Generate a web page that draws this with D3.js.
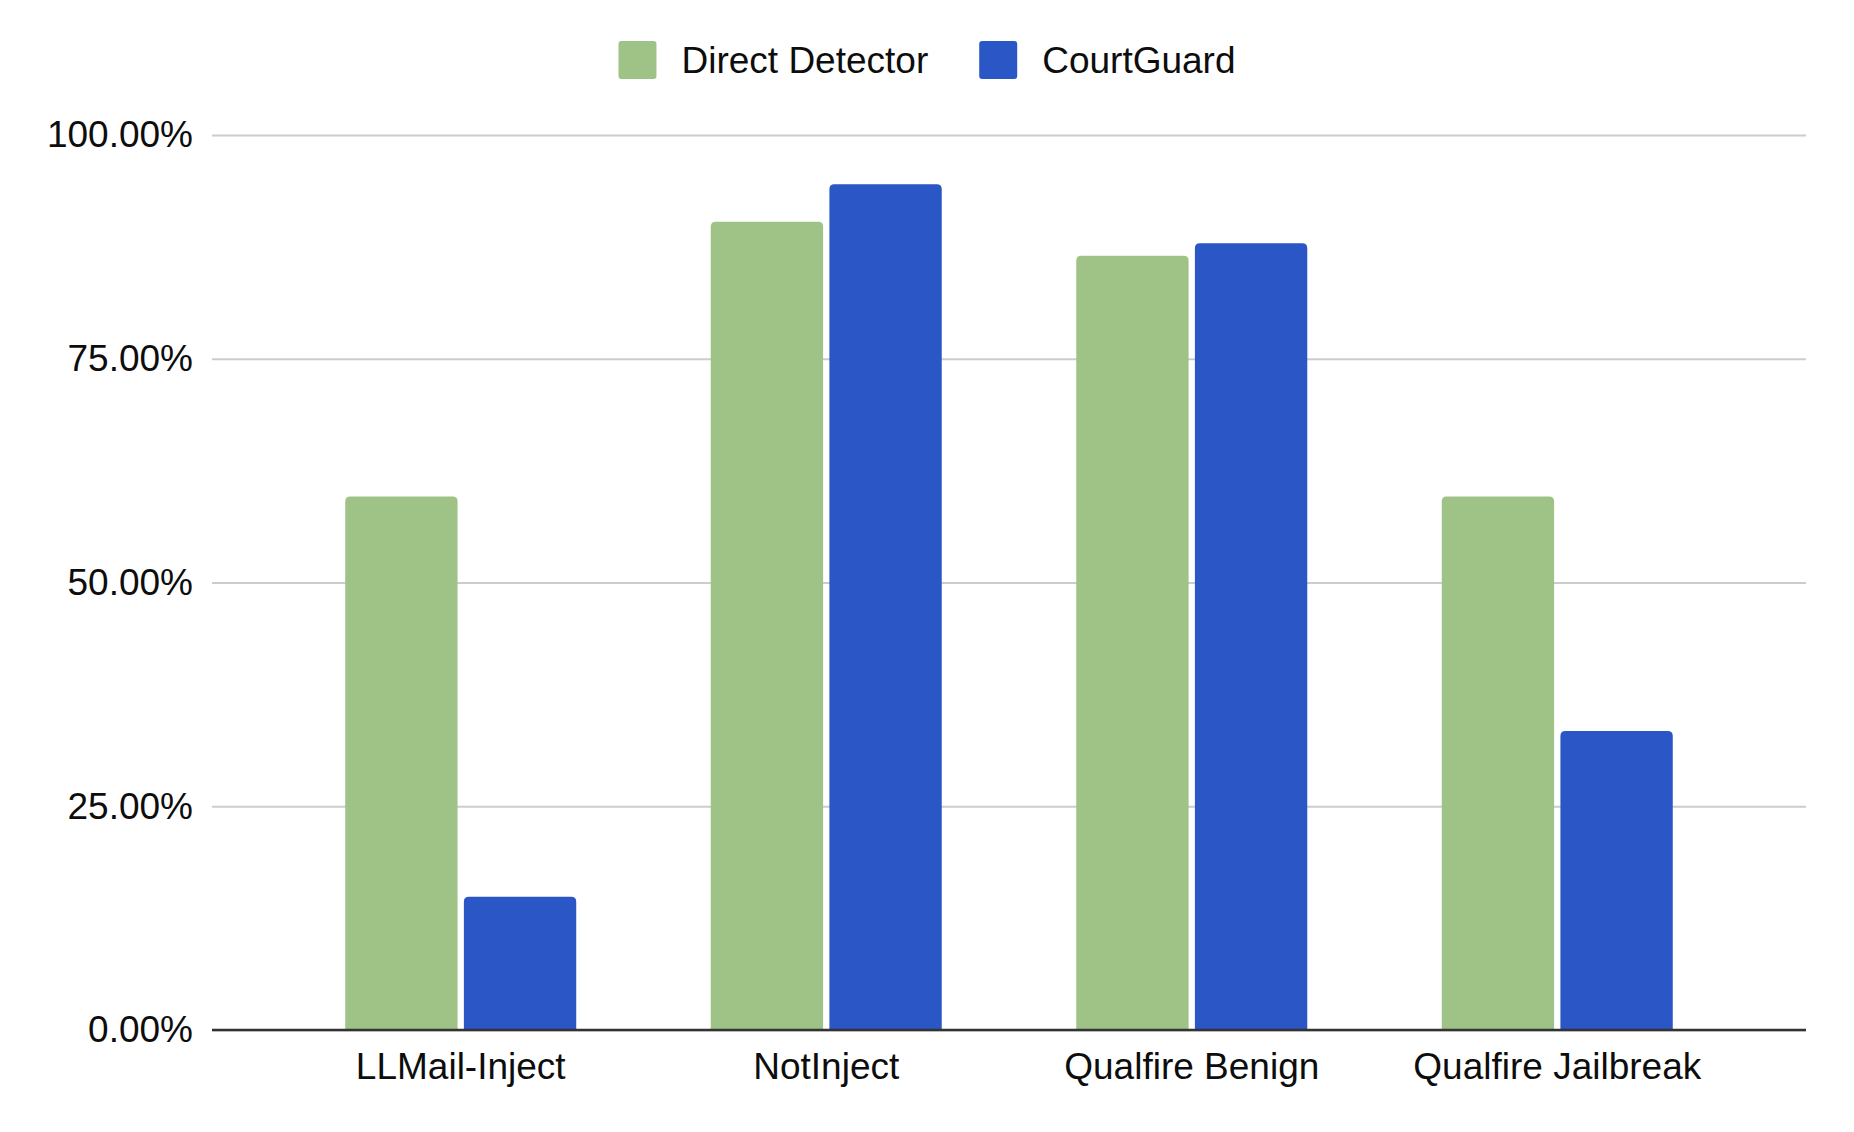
<!DOCTYPE html>
<html>
<head>
<meta charset="utf-8">
<script src="https://cdn.jsdelivr.net/npm/d3@7"></script>
<style>
  html, body { margin: 0; padding: 0; background: #ffffff; }
  svg { display: block; }
  text { font-family: "Liberation Sans", Arial, Helvetica, sans-serif; fill: #0d0d0d; }
</style>
</head>
<body>
<svg id="chart" width="1854" height="1132"></svg>
<script>
const categories = ["LLMail-Inject", "NotInject", "Qualfire Benign", "Qualfire Jailbreak"];
const seriesNames = ["Direct Detector", "CourtGuard"];
const directDetector = [59.6, 90.3, 86.5, 59.6];
const courtGuard = [14.9, 94.5, 87.9, 33.4];
const yTicks = [0, 25, 50, 75, 100];
const seriesColors = ["#9fc386", "#2a56c6"];

const W = 1854, H = 1132;
const margin = { left: 212, right: 48, top: 135, bottom: 102 };
const svg = d3.select("#chart");

const x0 = d3.scaleBand()
  .domain(categories)
  .range([margin.left, W - margin.right])
  .paddingInner(0.368)
  .paddingOuter(0.3645);

const x1 = d3.scaleBand()
  .domain(seriesNames)
  .range([0, x0.bandwidth()])
  .paddingInner(0.053)
  .paddingOuter(0);

const y = d3.scaleLinear()
  .domain([0, 100])
  .range([H - margin.bottom, margin.top]);

const color = d3.scaleOrdinal().domain(seriesNames).range(seriesColors);

// gridlines
const yAxis = d3.axisLeft(y)
  .tickValues(yTicks)
  .tickSize(-(W - margin.left - margin.right))
  .tickPadding(19)
  .tickFormat(d => d.toFixed(2) + "%");

const gy = svg.append("g")
  .attr("transform", `translate(${margin.left},0)`)
  .call(yAxis);
gy.select(".domain").remove();
gy.selectAll(".tick line")
  .attr("stroke", "#cccccc")
  .attr("stroke-width", 2);
gy.selectAll(".tick text")
  .attr("font-size", 37)
  .attr("fill", "#0d0d0d")
  .style("font-family", '"Liberation Sans", Arial, sans-serif');

// bars
const rows = categories.map((c, i) => ({
  category: c,
  values: [
    { series: seriesNames[0], value: directDetector[i] },
    { series: seriesNames[1], value: courtGuard[i] }
  ]
}));

function topRoundedRect(x, yTop, w, h, r) {
  r = Math.min(r, w / 2, h);
  return `M${x},${yTop + h}` +
    `V${yTop + r}` +
    `Q${x},${yTop} ${x + r},${yTop}` +
    `H${x + w - r}` +
    `Q${x + w},${yTop} ${x + w},${yTop + r}` +
    `V${yTop + h}Z`;
}

const groups = svg.append("g").selectAll("g")
  .data(rows)
  .join("g")
  .attr("transform", d => `translate(${x0(d.category)},0)`);

groups.selectAll("path")
  .data(d => d.values)
  .join("path")
  .attr("fill", d => color(d.series))
  .attr("d", d => topRoundedRect(x1(d.series), y(d.value), x1.bandwidth(), y(0) - y(d.value), 5));

// x axis
const xAxis = d3.axisBottom(x0).tickSize(0).tickPadding(22);
const gx = svg.append("g")
  .attr("transform", `translate(0,${y(0)})`)
  .call(xAxis);
gx.select(".domain")
  .attr("stroke", "#333333")
  .attr("stroke-width", 2.5)
  .attr("d", `M${margin.left},0H${W - margin.right}`);
gx.selectAll(".tick text")
  .attr("font-size", 37)
  .attr("fill", "#0d0d0d")
  .attr("dy", null)
  .attr("y", 49)
  .style("font-family", '"Liberation Sans", Arial, sans-serif');

// legend
const legendY = 60;
const legend = svg.append("g");
const items = legend.selectAll("g")
  .data(seriesNames)
  .join("g");
items.append("rect")
  .attr("width", 38).attr("height", 38)
  .attr("rx", 3).attr("ry", 3)
  .attr("y", legendY - 19)
  .attr("fill", d => color(d));
items.append("text")
  .attr("x", 63)
  .attr("y", legendY + 13)
  .attr("font-size", 37)
  .text(d => d);

// layout legend items centered on page
let widths = [];
items.each(function () { widths.push(this.getBBox().width); });
const gap = 51;
const total = d3.sum(widths) + gap * (widths.length - 1);
let cx = (W - total) / 2;
items.attr("transform", (d, i) => {
  const t = `translate(${cx},0)`;
  cx += widths[i] + gap;
  return t;
});
</script>
</body>
</html>
